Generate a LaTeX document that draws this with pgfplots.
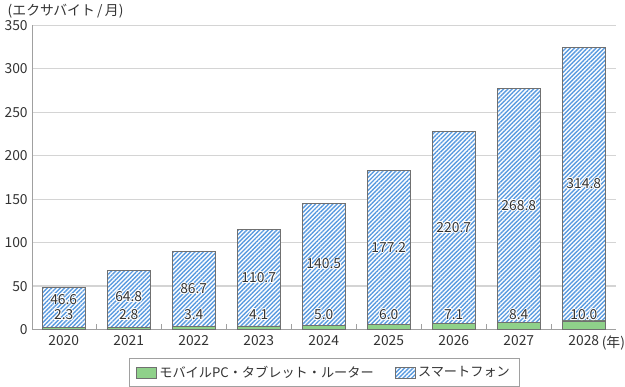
\documentclass[border=0pt]{standalone}
\usepackage{fontspec}
\setmainfont{Noto Sans CJK JP}
\usepackage{pgfplots}
\pgfplotsset{compat=1.18}
\usetikzlibrary{patterns.meta}
\definecolor{stripeblue}{HTML}{5A9BE0}
\definecolor{greenfill}{HTML}{8FD18A}
\definecolor{gridgray}{HTML}{D4D4D4}
\definecolor{axisgray}{HTML}{A0A0A0}
\definecolor{edgegray}{HTML}{707070}
\definecolor{txt}{HTML}{333333}
\begin{document}
\fontsize{10.5}{12}\selectfont
\begin{tikzpicture}
\begin{axis}[
  width=443pt, height=231pt, scale only axis,
  ybar stacked, bar width=32.25pt,
  xmin=-0.48, xmax=8.5, ymin=0, ymax=350,
  xtick={0,...,8},
  xticklabels={2020,2021,2022,2023,2024,2025,2026,2027,2028},
  minor xtick={0.5,1.5,...,7.5},
  ytick={0,50,...,350},
  axis x line*=bottom, axis y line*=left,
  axis line style={axisgray, line width=0.9pt},
  x axis line style={-}, y axis line style={-},
  ymajorgrids, grid style={gridgray, line width=0.9pt},
  tick align=inside,
  major tick length=4pt, minor tick length=4pt,
  xtick style={axisgray, line width=0.6pt},
  minor tick style={axisgray, line width=0.6pt},
  ytick style={draw=none},
  /pgf/number format/assume math mode=true,
  ticklabel style={font=\fontsize{10.5}{12}\selectfont, text=txt},
  xticklabel style={yshift=-1pt},
  legend style={at={(0.5,-0.095)}, anchor=north, legend columns=2, draw=axisgray,
    font=\fontsize{10}{12}\selectfont, text=txt,
    /tikz/every even column/.append style={column sep=14pt},
    inner xsep=5pt, inner ysep=3.5pt},
  legend image code/.code={\draw[#1] (0pt,-4pt) rectangle (15pt,4pt);},
  clip=false,
]
\addplot+[fill=greenfill, draw=edgegray, line width=0.5pt] coordinates {
  (0,2.3) (1,2.8) (2,3.4) (3,4.1) (4,5.0) (5,6.0) (6,7.1) (7,8.4) (8,10.0)};
\addlegendentry{モバイルPC・タブレット・ルーター}
\addplot+[fill=white, postaction={pattern={Lines[angle=45,distance=2.3pt,line width=1.05pt]}, pattern color=stripeblue}, draw=edgegray, line width=0.6pt] coordinates {
  (0,46.6) (1,64.8) (2,86.7) (3,110.7) (4,140.5) (5,177.2) (6,220.7) (7,268.8) (8,314.8)};
\addlegendentry{スマートフォン}
\coordinate (m0) at (axis cs:0,17);
\coordinate (m1) at (axis cs:1,17);
\coordinate (m2) at (axis cs:2,17);
\coordinate (m3) at (axis cs:3,17);
\coordinate (m4) at (axis cs:4,17);
\coordinate (m5) at (axis cs:5,17);
\coordinate (m6) at (axis cs:6,17);
\coordinate (m7) at (axis cs:7,17);
\coordinate (m8) at (axis cs:8,17);
\coordinate (s0) at (axis cs:0,35);
\coordinate (s1) at (axis cs:1,38);
\coordinate (s2) at (axis cs:2,46.8);
\coordinate (s3) at (axis cs:3,59.5);
\coordinate (s4) at (axis cs:4,75.3);
\coordinate (s5) at (axis cs:5,94.6);
\coordinate (s6) at (axis cs:6,117.5);
\coordinate (s7) at (axis cs:7,142.8);
\coordinate (s8) at (axis cs:8,167.4);
\node[anchor=base west, text=txt] at ([xshift=-22.5pt, yshift=7pt]rel axis cs:0,1) {(エクサバイト\,/\,月)};
\node[anchor=base west, text=txt, inner xsep=0pt] at ([xshift=13.5pt, yshift=-13.5pt]axis cs:8,0) {(年)};
\end{axis}
\foreach \n/\v in {m0/2.3,m1/2.8,m2/3.4,m3/4.1,m4/5.0,m5/6.0,m6/7.1,m7/8.4,m8/10.0,s0/46.6,s1/64.8,s2/86.7,s3/110.7,s4/140.5,s5/177.2,s6/220.7,s7/268.8,s8/314.8}{
  \foreach \dx/\dy in {0.7/0,-0.7/0,0/0.7,0/-0.7,0.5/0.5,-0.5/0.5,0.5/-0.5,-0.5/-0.5}{
    \node[text=white] at ([xshift=\dx pt, yshift=\dy pt]\n) {\v};
  }
  \node[text=txt] at (\n) {\v};
}
\end{tikzpicture}
\end{document}
